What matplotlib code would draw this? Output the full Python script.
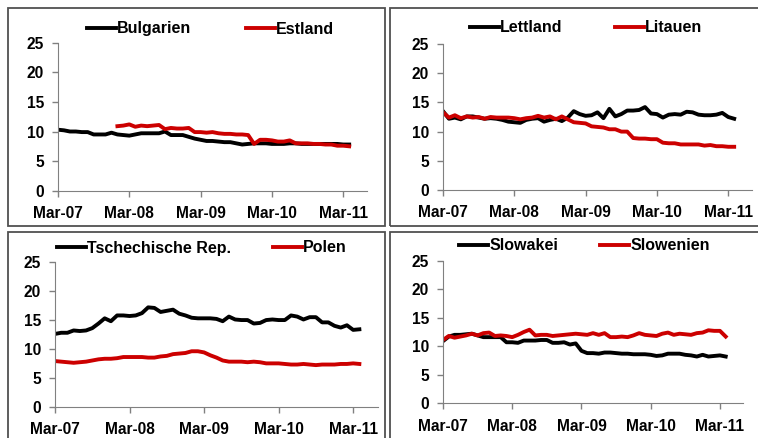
import numpy as np
import matplotlib.pyplot as plt
from matplotlib.patches import Rectangle

plt.rcParams['font.family'] = ['Liberation Sans', 'DejaVu Sans']
plt.rcParams['font.weight'] = 'bold'

# months since Mar-07
tick_pos = [0, 12, 24, 36, 48]
tick_labels = ["Mar-07", "Mar-08", "Mar-09", "Mar-10", "Mar-11"]

bulgarien = [10.3, 10.2, 10.0, 10.0, 9.9, 9.9, 9.5, 9.5, 9.5, 9.8, 9.5, 9.4,
             9.3, 9.5, 9.7, 9.7, 9.7, 9.7, 10.0, 9.4, 9.4, 9.4, 9.1, 8.8,
             8.6, 8.4, 8.4, 8.3, 8.2, 8.2, 8.0, 7.8, 7.9, 8.0, 8.0, 8.0,
             7.9, 7.9, 7.9, 8.0, 8.0, 7.9, 7.9, 7.9, 7.9, 7.9, 7.9, 7.9,
             7.8, 7.8]
estland_start = 10
estland = [10.9, 11.0, 11.2, 10.8, 11.0, 10.9, 11.0, 11.1, 10.4, 10.6,
           10.5, 10.5, 10.6, 9.9, 9.9, 9.8, 9.9, 9.7, 9.6, 9.6,
           9.5, 9.5, 9.4, 7.9, 8.6, 8.6, 8.5, 8.3, 8.3, 8.5,
           8.0, 8.0, 8.0, 7.9, 7.9, 7.8, 7.8, 7.6, 7.6, 7.5]

lettland = [13.5, 12.2, 12.4, 12.1, 12.6, 12.6, 12.4, 12.2, 12.3, 12.2, 12.0, 11.7,
            11.6, 11.5, 12.0, 12.2, 12.3, 11.7, 12.0, 12.2, 11.8, 12.4, 13.5, 13.0,
            12.7, 12.8, 13.3, 12.3, 13.9, 12.6, 13.0, 13.6, 13.6, 13.7, 14.2, 13.1,
            13.0, 12.4, 12.9, 13.0, 12.9, 13.4, 13.3, 12.9, 12.8, 12.8, 12.9, 13.2,
            12.5, 12.2]
litauen = [13.3, 12.4, 12.8, 12.3, 12.6, 12.4, 12.5, 12.2, 12.5, 12.4, 12.4, 12.4,
           12.3, 12.1, 12.3, 12.4, 12.7, 12.4, 12.6, 12.1, 12.6, 12.1, 11.6, 11.5,
           11.4, 10.9, 10.8, 10.7, 10.4, 10.4, 10.0, 10.0, 8.9, 8.8, 8.8, 8.7,
           8.7, 8.1, 8.0, 8.0, 7.8, 7.8, 7.8, 7.8, 7.6, 7.7, 7.5, 7.5,
           7.4, 7.4]

tschechien = [12.6, 12.8, 12.8, 13.2, 13.1, 13.2, 13.6, 14.4, 15.3, 14.8, 15.8, 15.8,
              15.7, 15.8, 16.2, 17.2, 17.1, 16.4, 16.6, 16.8, 16.1, 15.8, 15.4, 15.3,
              15.3, 15.3, 15.2, 14.8, 15.6, 15.1, 15.0, 15.0, 14.4, 14.5, 15.0, 15.1,
              15.0, 15.0, 15.8, 15.6, 15.1, 15.5, 15.5, 14.6, 14.6, 14.0, 13.7, 14.1,
              13.3, 13.4]
polen = [7.9, 7.8, 7.7, 7.6, 7.7, 7.8, 8.0, 8.2, 8.3, 8.3, 8.4, 8.6,
         8.6, 8.6, 8.6, 8.5, 8.5, 8.7, 8.8, 9.1, 9.2, 9.3, 9.6, 9.6,
         9.4, 8.9, 8.5, 8.0, 7.8, 7.8, 7.8, 7.7, 7.8, 7.7, 7.5, 7.5,
         7.5, 7.4, 7.3, 7.3, 7.4, 7.3, 7.2, 7.3, 7.3, 7.3, 7.4, 7.4,
         7.5, 7.4]

slowakei = [10.9, 11.7, 12.0, 12.0, 12.1, 12.2, 11.9, 11.6, 11.6, 11.6, 11.6, 10.7,
            10.7, 10.6, 11.0, 11.0, 11.0, 11.1, 11.1, 10.6, 10.6, 10.7, 10.3, 10.5,
            9.2, 8.8, 8.8, 8.7, 8.9, 8.9, 8.8, 8.7, 8.7, 8.6, 8.6, 8.6,
            8.5, 8.3, 8.4, 8.7, 8.7, 8.7, 8.5, 8.4, 8.2, 8.5, 8.2, 8.3,
            8.4, 8.2]
slowenien = [11.1, 11.8, 11.5, 11.7, 11.9, 12.2, 11.9, 12.3, 12.4, 11.8, 11.9, 11.8,
             11.6, 12.0, 12.5, 12.9, 11.9, 12.0, 12.0, 11.8, 11.9, 12.0, 12.1, 12.2,
             12.1, 12.0, 12.3, 12.0, 12.3, 11.6, 11.6, 11.7, 11.6, 11.9, 12.3, 12.0,
             11.9, 11.8, 12.2, 12.4, 12.0, 12.2, 12.1, 12.0, 12.3, 12.4, 12.8, 12.7,
             12.7, 11.7]

RED = "#cc0000"
W, H = 758, 438

fig = plt.figure(figsize=(7.58, 4.38), dpi=100)

# panel frames (pixel coords: left, top, right, bottom)
for l, t, r, b in [(8, 8, 385, 226), (390, 8, 762, 226),
                   (8, 232, 385, 442), (390, 232, 762, 442)]:
    fig.patches.append(Rectangle((l / W, 1 - b / H), (r - l) / W, (b - t) / H,
                                 transform=fig.transFigure, fill=False,
                                 edgecolor="#505050", lw=1.3))

def panel(px, series, labels, leg_xy, colspace):
    l, t, r, b = px
    ax = fig.add_axes([l / W, 1 - b / H, (r - l) / W, (b - t) / H])
    (xb, yb), (xr, yr) = series
    ax.plot(xb, yb, color="black", lw=2.8, label=labels[0])
    ax.plot(xr, yr, color=RED, lw=2.8, label=labels[1])
    ax.set_ylim(0, 25)
    ax.set_xlim(0, 52)
    ax.set_yticks([0, 5, 10, 15, 20, 25])
    ax.set_xticks(tick_pos)
    ax.set_xticklabels(tick_labels)
    for s in ["top", "right"]:
        ax.spines[s].set_visible(False)
    for s in ["left", "bottom"]:
        ax.spines[s].set_color("#808080")
    ax.tick_params(colors="#808080", labelcolor="black", labelsize=11.2,
                   length=4, width=1)
    ax.tick_params(axis="x", pad=7)
    ax.tick_params(axis="y", pad=6)
    ax.legend(loc="center left", bbox_to_anchor=(leg_xy[0] / W, 1 - leg_xy[1] / H),
              bbox_transform=fig.transFigure, ncol=2, frameon=False,
              fontsize=11.5, handlelength=1.8, handletextpad=0.1,
              columnspacing=colspace, borderpad=0, borderaxespad=0)
    return ax

m = np.arange(50)
est_x = np.arange(estland_start, estland_start + len(estland))

panel((58, 42.7, 367, 190.7), ((m, bulgarien), (est_x, estland)),
      ["Bulgarien", "Estland"], (87, 29), 3.4)
panel((443, 44, 752, 190), ((m, lettland), (m, litauen)),
      ["Lettland", "Litauen"], (470, 28), 3.25)
panel((55, 262.3, 378, 406.7), ((m, tschechien), (m, polen)),
      ["Tschechische Rep.", "Polen"], (57, 248), 2.6)
panel((443, 260.7, 743, 403.3), ((m, slowakei), (m, slowenien)),
      ["Slowakei", "Slowenien"], (459, 246), 2.6)

fig.savefig("out.png", dpi=100)
